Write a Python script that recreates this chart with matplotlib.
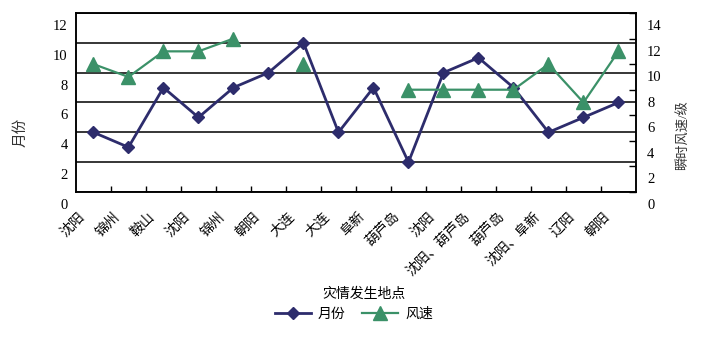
import matplotlib
matplotlib.use("Agg")
import matplotlib.pyplot as plt
import matplotlib.transforms as mtransforms
import numpy as np

plt.rcParams['font.family'] = ['Liberation Serif', 'Noto Sans CJK SC']

# disaster locations along the x axis
places = ['沈阳', '锦州', '鞍山', '沈阳', '锦州', '朝阳', '大连', '大连', '阜新',
          '葫芦岛', '沈阳', '沈阳、葫芦岛', '葫芦岛', '沈阳、阜新', '辽阳', '朝阳']
# month of each event (left axis)
months = [4, 3, 7, 5, 7, 8, 10, 4, 7, 2, 8, 9, 7, 4, 5, 6]
# instantaneous wind force, Beaufort grade (right axis), nan = no record
wind = [10, 9, 11, 11, 12, np.nan, 10, np.nan, np.nan, 8, 8, 8, 8, 10, 7, 11]

navy = '#2d2c6c'
green = '#3b9168'

fig = plt.figure(figsize=(7.08, 3.39), dpi=100)
ax = fig.add_axes([0.1073, 0.4336, 0.7910, 0.5281])
ax2 = ax.twinx()

x = np.arange(len(places))
ax.plot(x, months, color=navy, lw=2, marker='D', ms=6.5, zorder=3, label='月份')
ax2.plot(x, wind, color=green, lw=1.6, marker='^', ms=10, zorder=3, label='风速')

ax.set_xlim(-0.5, len(places) - 0.5)
ax.set_ylim(0, 12)
ax2.set_ylim(0, 14)

# horizontal grid from the month axis
ax.set_yticks(np.arange(0, 13, 2))
ax.yaxis.grid(True, color='black', lw=1.1)
ax.set_axisbelow(True)
ax.tick_params(axis='y', length=0, pad=6, labelsize=10.5)

ax2.set_yticks(np.arange(0, 15, 2))
ax2.tick_params(axis='y', direction='in', length=5, width=1, pad=8, labelsize=10.5)

# category ticks: marks on boundaries, labels at centres
ax.set_xticks(x)
ax.set_xticklabels(places, rotation=45, ha='right', va='top', fontsize=10)
ax.set_xticks(np.arange(1, len(places)) - 0.5, minor=True)
ax.tick_params(axis='x', which='major', length=0, pad=13)
ax.tick_params(axis='x', which='minor', direction='in', length=4, width=1)

for s in ax.spines.values():
    s.set_linewidth(1.1)
for s in ax2.spines.values():
    s.set_linewidth(1.1)

# shift value labels down a little
down = mtransforms.ScaledTranslation(0, -0.12, fig.dpi_scale_trans)
for lab in ax.get_yticklabels() + ax2.get_yticklabels():
    lab.set_transform(lab.get_transform() + down)
left = mtransforms.ScaledTranslation(-0.06, 0, fig.dpi_scale_trans)
for lab in ax.get_xticklabels():
    lab.set_transform(lab.get_transform() + left)

ax.set_ylabel('月份', fontsize=10.5, color='#333333')
ax.yaxis.set_label_coords(-0.086, 0.335)
ax2.set_ylabel('瞬时风速/级', fontsize=9.5, color='#333333', rotation=90)
ax2.yaxis.set_label_coords(1.073, 0.32)

fig.text(0.514, 1 - 294 / 339, '灾情发生地点', ha='center', va='center', fontsize=10)

h1, l1 = ax.get_legend_handles_labels()
h2, l2 = ax2.get_legend_handles_labels()
fig.legend(h1 + h2, l1 + l2, loc='center', bbox_to_anchor=(0.5, 1 - 314 / 339),
           ncol=2, frameon=False, fontsize=10, handlelength=2.6, columnspacing=1.2,
           handletextpad=0.5)

fig.savefig('out.png', dpi=100)
